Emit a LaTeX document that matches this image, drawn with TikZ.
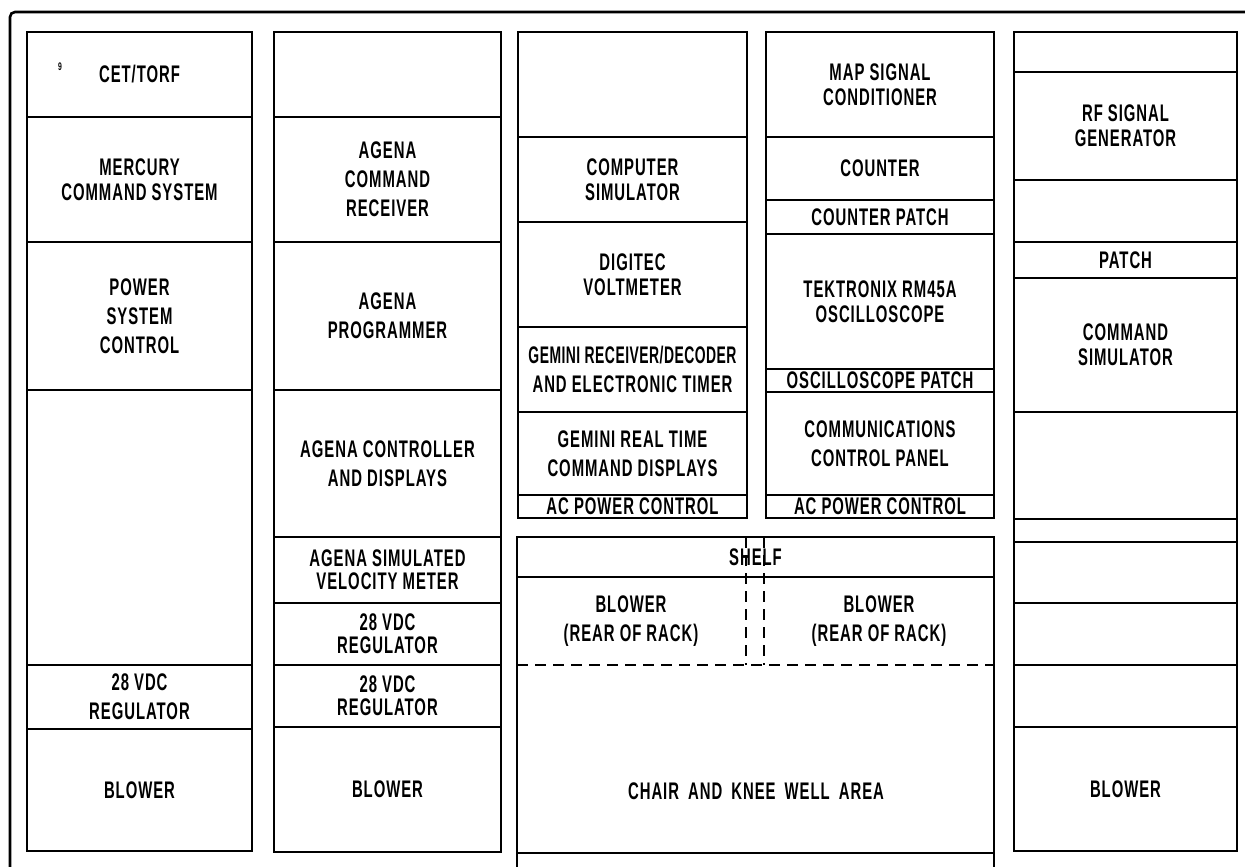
\documentclass[tikz,border=0pt]{standalone}
\usepackage{fontspec}
\setmainfont{Liberation Sans}[FakeStretch=0.62,LetterSpace=4]
\newfontfamily\rktight{Liberation Sans}[FakeStretch=0.58,LetterSpace=2]
\newcommand\rklab{\fontsize{24}{29}\selectfont\bfseries}
\newcommand\rkcell[6]{\node[cellbox, minimum width={(#4-#2)*1pt}, minimum height={(#5-#3)*1pt}] (#1) at ({(#2+#4)/2},{(#3+#5)/2}) {#6};}
\begin{document}
\begin{tikzpicture}[x=1pt,y=-1pt,
  cellbox/.style={draw, line width=1.6pt, inner sep=0pt, outer sep=0pt, align=center, font=\rklab},
  lbl/.style={inner sep=0pt, align=center, font=\rklab},
  rule/.style={line width=1.6pt},
  dashrule/.style={line width=1.6pt, dash pattern=on 11pt off 7pt}]
\useasboundingbox (0,0) rectangle (1245,867);
\clip (0,0) rectangle (1245,867);
% outer frame
\draw[line width=2.6pt, rounded corners=5pt] (10,12) rectangle (1265,890);
% column 1
\rkcell{c1a}{27}{32}{252}{117}{CET/TORF}
\rkcell{c1b}{27}{117}{252}{242}{MERCURY\\[-4pt]COMMAND SYSTEM}
\rkcell{c1c}{27}{242}{252}{390}{POWER\\SYSTEM\\CONTROL}
\rkcell{c1d}{27}{390}{252}{665}{}
\rkcell{c1e}{27}{665}{252}{729}{28 VDC\\REGULATOR}
\rkcell{c1f}{27}{729}{252}{851}{BLOWER}
\node[inner sep=0pt, font=\fontsize{11}{11}\selectfont\bfseries] (mark) at (60,67) {9};
% column 2
\rkcell{c2a}{274}{32}{501}{117}{}
\rkcell{c2b}{274}{117}{501}{242}{AGENA\\COMMAND\\RECEIVER}
\rkcell{c2c}{274}{242}{501}{390}{AGENA\\PROGRAMMER}
\rkcell{c2d}{274}{390}{501}{537}{AGENA CONTROLLER\\AND DISPLAYS}
\rkcell{c2e}{274}{537}{501}{603}{AGENA SIMULATED\\[-6pt]VELOCITY METER}
\rkcell{c2f}{274}{603}{501}{665}{28 VDC\\[-6pt]REGULATOR}
\rkcell{c2g}{274}{665}{501}{727}{28 VDC\\[-6pt]REGULATOR}
\rkcell{c2h}{274}{727}{501}{852}{BLOWER}
% column 3
\rkcell{c3a}{518}{32}{747}{137}{}
\rkcell{c3b}{518}{137}{747}{222}{COMPUTER\\[-4pt]SIMULATOR}
\rkcell{c3c}{518}{222}{747}{327}{DIGITEC\\[-4pt]VOLTMETER}
\rkcell{c3d}{518}{327}{747}{412}{{\rktight GEMINI RECEIVER/DECODER}\\AND ELECTRONIC TIMER}
\rkcell{c3e}{518}{412}{747}{495}{GEMINI REAL TIME\\COMMAND DISPLAYS}
\rkcell{c3f}{518}{495}{747}{518}{AC POWER CONTROL}
% column 4
\rkcell{c4a}{766}{32}{994}{137}{MAP SIGNAL\\[-4pt]CONDITIONER}
\rkcell{c4b}{766}{137}{994}{200}{COUNTER}
\rkcell{c4c}{766}{200}{994}{234}{COUNTER PATCH}
\rkcell{c4d}{766}{234}{994}{369}{TEKTRONIX RM45A\\[-4pt]OSCILLOSCOPE}
\rkcell{c4e}{766}{369}{994}{392}{OSCILLOSCOPE PATCH}
\rkcell{c4f}{766}{392}{994}{495}{COMMUNICATIONS\\CONTROL PANEL}
\rkcell{c4g}{766}{495}{994}{518}{AC POWER CONTROL}
% column 5
\rkcell{c5a}{1014}{32}{1237}{72}{}
\rkcell{c5b}{1014}{72}{1237}{180}{RF SIGNAL\\[-4pt]GENERATOR}
\rkcell{c5c}{1014}{180}{1237}{242}{}
\rkcell{c5d}{1014}{242}{1237}{278}{PATCH}
\rkcell{c5e}{1014}{278}{1237}{412}{COMMAND\\[-4pt]SIMULATOR}
\rkcell{c5f}{1014}{412}{1237}{519}{}
\rkcell{c5g}{1014}{519}{1237}{542}{}
\rkcell{c5h}{1014}{542}{1237}{603}{}
\rkcell{c5i}{1014}{603}{1237}{665}{}
\rkcell{c5j}{1014}{665}{1237}{727}{}
\rkcell{c5k}{1014}{727}{1237}{851}{BLOWER}
% centre lower block
\rkcell{shelf}{517}{537}{994}{577}{SHELF}
\coordinate (chairbl) at (517,853);
\coordinate (chairbr) at (994,853);
\coordinate (leftend) at (517,880);
\coordinate (rightend) at (994,880);
\coordinate (dl) at (517,665);
\coordinate (dr) at (994,665);
\coordinate (v1t) at (746,537);
\coordinate (v1b) at (746,665);
\coordinate (v2t) at (764,537);
\coordinate (v2b) at (764,665);
\node[lbl] (blowL) at (631,621) {BLOWER\\(REAR OF RACK)};
\node[lbl] (blowR) at (879,621) {BLOWER\\(REAR OF RACK)};
\node[lbl] (chair) at (756,791) {CHAIR\hspace{4pt} AND\hspace{4pt} KNEE\hspace{4pt} WELL\hspace{4pt} AREA};
\draw[rule] (shelf.south west) -- (leftend);
\draw[rule] (shelf.south east) -- (rightend);
\draw[rule] (chairbl) -- (chairbr);
\draw[dashrule] (dl) -- (dr);
\draw[dashrule] (v1t) -- (v1b);
\draw[dashrule] (v2t) -- (v2b);
\end{tikzpicture}
\end{document}
